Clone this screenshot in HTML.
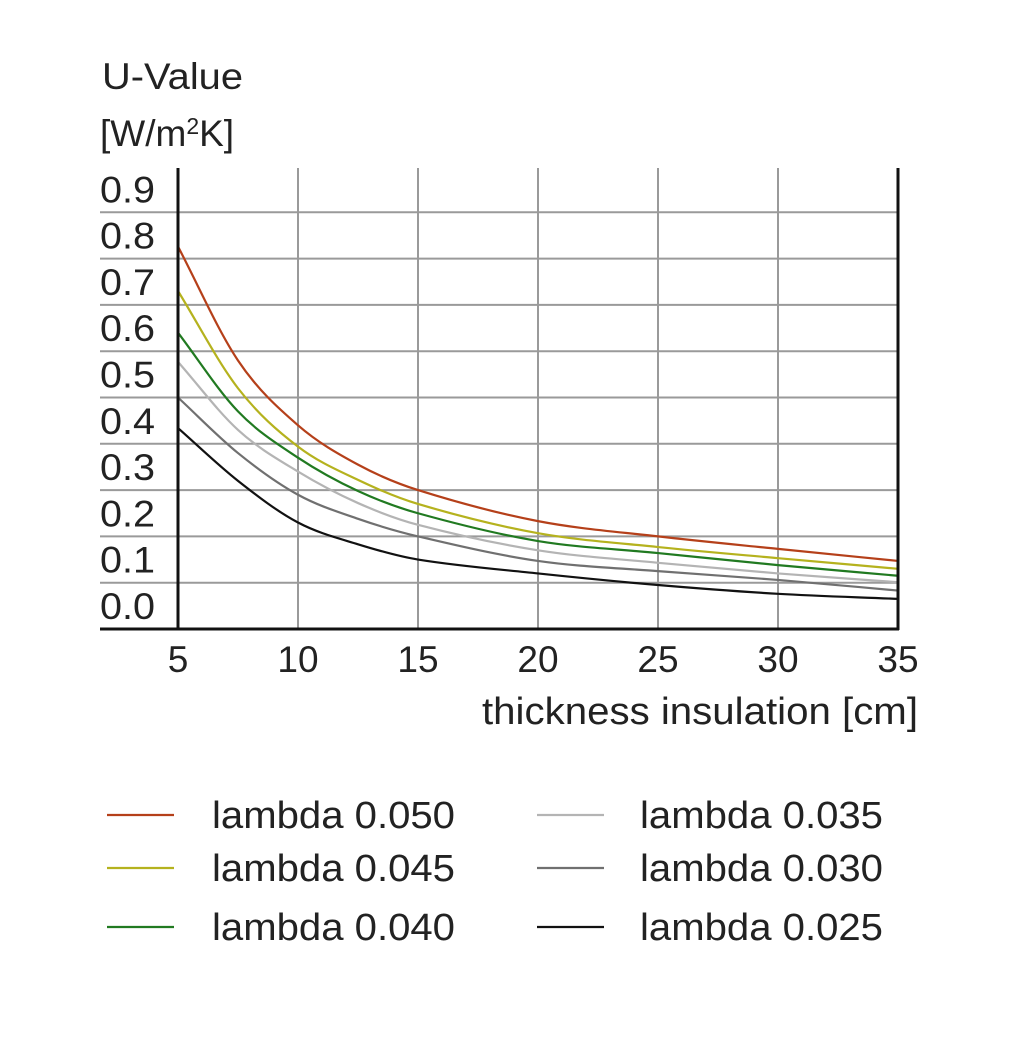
<!DOCTYPE html>
<html><head><meta charset="utf-8"><style>
html,body{margin:0;padding:0;background:#fff;}
svg{display:block;font-family:"Liberation Sans",Arial,sans-serif;}
</style></head><body>
<svg id="chart" width="1012" height="1052" viewBox="0 0 1012 1052">
<text x="102" y="89" font-size="37" fill="#222" textLength="141" lengthAdjust="spacingAndGlyphs">U-Value</text>
<text x="100" y="146" font-size="37" fill="#222">[W/m<tspan font-size="23" dy="-12">2</tspan><tspan dy="12">K]</tspan></text>
<g id="grid"></g>
<g id="series"></g>
<g id="axes"></g>
<text x="482" y="724" font-size="38" fill="#222" textLength="436" lengthAdjust="spacingAndGlyphs">thickness insulation [cm]</text>
<g id="legend"></g>
</svg>
<script>
const xValues = [5, 7.5, 10, 12.5, 15, 20, 25, 30, 35];
const seriesNames = ["lambda 0.050","lambda 0.045","lambda 0.040","lambda 0.035","lambda 0.030","lambda 0.025"];
const seriesColors = ["#b5401a","#b5b21e","#217a21","#b4b4b4","#707070","#111111"];
const u050 = [0.826, 0.58, 0.44, 0.355, 0.30, 0.233, 0.20, 0.173, 0.147];
const u045 = [0.73, 0.52, 0.394, 0.322, 0.27, 0.207, 0.177, 0.153, 0.13];
const u040 = [0.64, 0.47, 0.37, 0.298, 0.25, 0.19, 0.164, 0.138, 0.115];
const u035 = [0.577, 0.43, 0.34, 0.272, 0.225, 0.17, 0.143, 0.12, 0.101];
const u030 = [0.50, 0.38, 0.29, 0.238, 0.20, 0.147, 0.125, 0.106, 0.083];
const u025 = [0.434, 0.32, 0.23, 0.183, 0.15, 0.12, 0.095, 0.076, 0.065];
const seriesValues = [u050, u045, u040, u035, u030, u025];
const xTicks = [5, 10, 15, 20, 25, 30, 35];
const yTicks = [0.0, 0.1, 0.2, 0.3, 0.4, 0.5, 0.6, 0.7, 0.8, 0.9];
const yTickLabels = ["0.0","0.1","0.2","0.3","0.4","0.5","0.6","0.7","0.8","0.9"];

const NS = "http://www.w3.org/2000/svg";
const X0 = 178, X1 = 898, Y0 = 629, PER = 463;
const xs = v => X0 + (v - 5) * (X1 - X0) / 30;
const ys = v => Y0 - v * PER;
function mk(tag, attrs, parent){ const e = document.createElementNS(NS, tag); for (const k in attrs) e.setAttribute(k, attrs[k]); parent.appendChild(e); return e; }

const grid = document.getElementById("grid");
yTicks.forEach((t, i) => {
  if (t > 0) {
    const l = mk("line", {x1: 100, x2: X1, y1: ys(t), y2: ys(t), stroke: "#9a9a9a", "stroke-width": 2}, grid);
    
    
  }
  const tx = mk("text", {x: 100, y: ys(t) - 10, "font-size": 37, fill: "#222", textLength: 55, lengthAdjust: "spacingAndGlyphs"}, grid);
  tx.textContent = yTickLabels[i];
  
  
});
xTicks.forEach(t => {
  if (t !== 5 && t !== 35) {
    const l = mk("line", {x1: xs(t), x2: xs(t), y1: 168, y2: Y0, stroke: "#9a9a9a", "stroke-width": 2}, grid);
    
    
  }
  const tx = mk("text", {x: xs(t), y: 672, "font-size": 37, fill: "#222", "text-anchor": "middle"}, grid);
  tx.textContent = String(t);
  
  
});

const series = document.getElementById("series");
function smoothPath(xv, yv){
  const n = xv.length, m = [];
  for (let i = 0; i < n; i++) {
    const a = Math.max(0, i-1), b = Math.min(n-1, i+1);
    m.push((yv[b]-yv[a])/(xv[b]-xv[a]));
  }
  let d = `M${xs(xv[0])},${ys(yv[0])}`;
  for (let i = 0; i < n-1; i++) {
    const h = xv[i+1]-xv[i];
    const c1 = [xv[i]+h/3, yv[i]+m[i]*h/3], c2 = [xv[i+1]-h/3, yv[i+1]-m[i+1]*h/3];
    d += ` C${xs(c1[0])},${ys(c1[1])} ${xs(c2[0])},${ys(c2[1])} ${xs(xv[i+1])},${ys(yv[i+1])}`;
  }
  return d;
}
seriesValues.forEach((vals, si) => {
  const p = mk("path", {d: smoothPath(xValues, vals), fill: "none", stroke: seriesColors[si], "stroke-width": 2.2}, series);
  
  
});

const axes = document.getElementById("axes");
const ax1 = mk("line", {x1: X0, x2: X0, y1: 168, y2: 630, stroke: "#111", "stroke-width": 3}, axes);


const ax2 = mk("line", {x1: X1, x2: X1, y1: 168, y2: 630, stroke: "#111", "stroke-width": 3}, axes);


const ax3 = mk("line", {x1: 100, x2: X1 + 1, y1: Y0, y2: Y0, stroke: "#111", "stroke-width": 3}, axes);



const legend = document.getElementById("legend");
const rowY = [815, 868, 927];
seriesNames.forEach((n, i) => {
  const col = Math.floor(i / 3), row = i % 3;
  const lx = col ? 537 : 107, tx = col ? 640 : 212;
  const g = mk("g", {}, legend);
  
  
  mk("line", {x1: lx, x2: lx + 67, y1: rowY[row], y2: rowY[row], stroke: seriesColors[i], "stroke-width": 2.2}, g);
  const t = mk("text", {x: tx, y: rowY[row] + 13, "font-size": 38, fill: "#222", textLength: 243, lengthAdjust: "spacingAndGlyphs"}, g);
  t.textContent = n;
});
</script>
</body></html>
